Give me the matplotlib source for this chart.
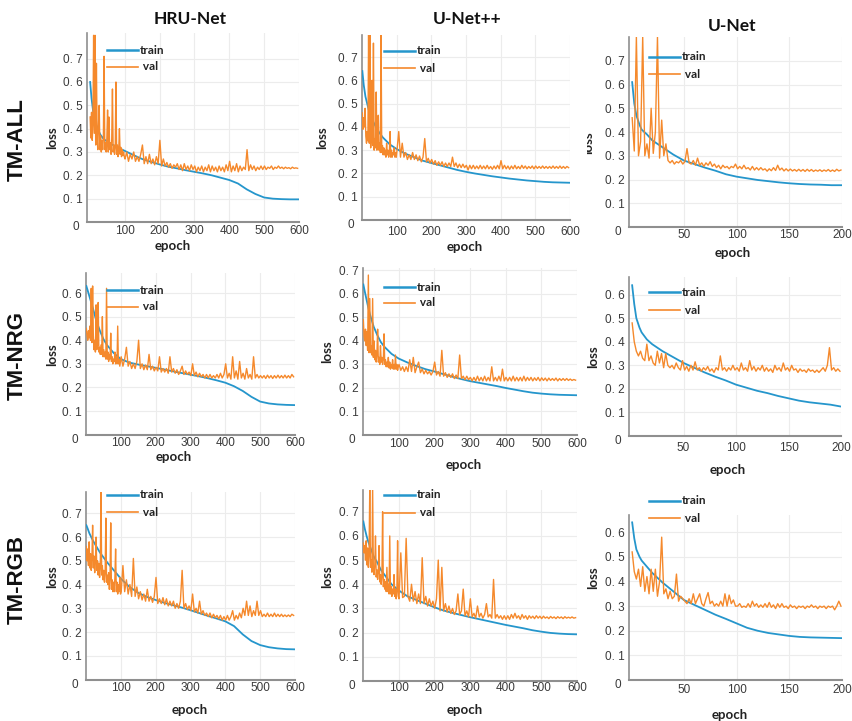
import numpy as np
import matplotlib
matplotlib.use("Agg")
import matplotlib.pyplot as plt
from matplotlib.lines import Line2D
from matplotlib.transforms import Bbox, TransformedBbox

W, H = 852, 721

MODELS = ["HRU-Net", "U-Net++", "U-Net"]
DATASETS = ["TM-ALL", "TM-NRG", "TM-RGB"]
LEGEND_LABELS = ["train", " val"]

# epochs at which the (smooth) training loss is listed
TRAIN_EPOCHS_LONG = [1, 5, 10, 15, 20, 30, 40, 50, 60, 80, 100, 125, 150, 175, 200, 225, 250,
                     275, 300, 325, 350, 375, 400, 425, 450, 475, 500, 525, 550, 575, 600]
TRAIN_EPOCHS_SHORT = [1, 3, 5, 8, 10, 15, 20, 25, 30, 40, 50, 60, 70, 80, 90, 100, 110, 120,
                      130, 140, 150, 160, 170, 180, 190, 200]
# validation loss: every 2nd epoch up to 99, then every 5th epoch (600-epoch runs);
# every 2nd epoch for the 200-epoch runs
VAL_EPOCHS_LONG = np.concatenate([np.arange(1, 100, 2), np.arange(101, 600, 5)])
VAL_EPOCHS_SHORT = np.arange(1, 200, 2)

X_TICKS_LONG = [100, 200, 300, 400, 500, 600]
X_TICKS_SHORT = [50, 100, 150, 200]
Y_TICKS_7 = [0.1, 0.2, 0.3, 0.4, 0.5, 0.6, 0.7]
Y_TICKS_6 = [0.1, 0.2, 0.3, 0.4, 0.5, 0.6]
Y_TICK_LABELS = ["0. 1", "0. 2", "0. 3", "0. 4", "0. 5", "0. 6", "0. 7"]

# ---------------- HRU-Net / TM-ALL ----------------
hru_all_train = [0.60, 0.53, 0.47, 0.43, 0.41, 0.375, 0.355, 0.345, 0.335, 0.32, 0.305, 0.287,
                 0.27, 0.258, 0.247, 0.237, 0.23, 0.222, 0.215, 0.208, 0.20, 0.19, 0.18, 0.165,
                 0.14, 0.12, 0.105, 0.10, 0.098, 0.097, 0.097]
hru_all_val = [
    0.45, 0.36, 0.47, 0.35, 0.42, 0.80, 0.38, 0.80, 0.33, 0.68,
    0.36, 0.31, 0.42, 0.50, 0.31, 0.37, 0.30, 0.35, 0.31, 0.36,
    0.71, 0.31, 0.34, 0.30, 0.36, 0.48, 0.30, 0.45, 0.31, 0.34,
    0.29, 0.36, 0.57, 0.30, 0.33, 0.29, 0.32, 0.60, 0.29, 0.33,
    0.28, 0.31, 0.40, 0.29, 0.32, 0.28, 0.31, 0.285, 0.30, 0.28,
    0.27, 0.30, 0.26, 0.29, 0.27, 0.30, 0.26, 0.28, 0.26, 0.29,
    0.33, 0.25, 0.28, 0.25, 0.29, 0.25, 0.27, 0.245, 0.28, 0.25,
    0.35, 0.24, 0.27, 0.24, 0.255, 0.235, 0.25, 0.23, 0.245, 0.235,
    0.25, 0.225, 0.245, 0.22, 0.25, 0.225, 0.24, 0.22, 0.245, 0.225,
    0.24, 0.215, 0.235, 0.22, 0.24, 0.215, 0.235, 0.22, 0.245, 0.215,
    0.24, 0.22, 0.235, 0.215, 0.24, 0.22, 0.235, 0.215, 0.245, 0.22,
    0.26, 0.215, 0.24, 0.22, 0.25, 0.215, 0.24, 0.22, 0.235, 0.225,
    0.31, 0.22, 0.245, 0.225, 0.24, 0.22, 0.235, 0.225, 0.24, 0.225,
    0.24, 0.225, 0.235, 0.23, 0.24, 0.225, 0.235, 0.23, 0.24, 0.23,
    0.235, 0.228, 0.235, 0.23, 0.233, 0.228, 0.235, 0.23, 0.232, 0.23,
]

# ---------------- U-Net++ / TM-ALL ----------------
unetpp_all_train = [0.64, 0.58, 0.53, 0.50, 0.47, 0.43, 0.40, 0.375, 0.355, 0.325, 0.305, 0.285,
                    0.27, 0.255, 0.245, 0.235, 0.225, 0.215, 0.207, 0.20, 0.194, 0.188, 0.183,
                    0.178, 0.174, 0.17, 0.167, 0.164, 0.162, 0.161, 0.16]
unetpp_all_val = [
    0.46, 0.39, 0.44, 0.40, 0.48, 0.36, 0.33, 0.38, 0.34, 0.80,
    0.33, 0.80, 0.31, 0.36, 0.60, 0.32, 0.76, 0.30, 0.35, 0.31,
    0.55, 0.30, 0.34, 0.45, 0.30, 0.33, 0.29, 0.80, 0.29, 0.32,
    0.28, 0.31, 0.28, 0.30, 0.27, 0.33, 0.28, 0.30, 0.27, 0.29,
    0.38, 0.27, 0.30, 0.27, 0.29, 0.28, 0.31, 0.27, 0.29, 0.27,
    0.30, 0.38, 0.27, 0.33, 0.27, 0.29, 0.26, 0.28, 0.26, 0.29,
    0.26, 0.28, 0.255, 0.275, 0.25, 0.27, 0.35, 0.25, 0.265, 0.245,
    0.26, 0.24, 0.255, 0.235, 0.25, 0.235, 0.25, 0.23, 0.245, 0.23,
    0.245, 0.23, 0.27, 0.23, 0.245, 0.225, 0.24, 0.225, 0.24, 0.225,
    0.235, 0.215, 0.235, 0.22, 0.235, 0.22, 0.232, 0.22, 0.235, 0.22,
    0.232, 0.22, 0.235, 0.22, 0.23, 0.218, 0.232, 0.22, 0.235, 0.22,
    0.255, 0.22, 0.235, 0.22, 0.232, 0.218, 0.232, 0.22, 0.235, 0.22,
    0.23, 0.22, 0.235, 0.222, 0.232, 0.22, 0.23, 0.222, 0.232, 0.22,
    0.232, 0.222, 0.23, 0.222, 0.232, 0.222, 0.23, 0.222, 0.23, 0.222,
    0.232, 0.222, 0.23, 0.222, 0.232, 0.222, 0.23, 0.222, 0.23, 0.225,
]

# ---------------- U-Net / TM-ALL ----------------
unet_all_train = [0.61, 0.52, 0.47, 0.43, 0.41, 0.39, 0.365, 0.35, 0.335, 0.305, 0.28, 0.265,
                  0.25, 0.237, 0.222, 0.212, 0.205, 0.198, 0.193, 0.188, 0.184, 0.181, 0.179,
                  0.178, 0.176, 0.176]
unet_all_val = [
    0.46, 0.32, 0.80, 0.30, 0.36, 0.80, 0.30, 0.35, 0.29, 0.50,
    0.31, 0.40, 0.80, 0.29, 0.45, 0.30, 0.35, 0.28, 0.27, 0.28,
    0.265, 0.275, 0.27, 0.28, 0.265, 0.275, 0.33, 0.27, 0.265, 0.28,
    0.26, 0.29, 0.26, 0.27, 0.255, 0.27, 0.26, 0.275, 0.255, 0.265,
    0.25, 0.26, 0.245, 0.26, 0.25, 0.255, 0.245, 0.255, 0.25, 0.265,
    0.245, 0.255, 0.245, 0.26, 0.245, 0.25, 0.24, 0.255, 0.24, 0.25,
    0.24, 0.25, 0.24, 0.245, 0.235, 0.245, 0.237, 0.25, 0.238, 0.26,
    0.24, 0.248, 0.236, 0.245, 0.236, 0.244, 0.236, 0.242, 0.235, 0.243,
    0.235, 0.242, 0.234, 0.243, 0.235, 0.242, 0.234, 0.24, 0.235, 0.241,
    0.234, 0.24, 0.235, 0.242, 0.234, 0.24, 0.234, 0.243, 0.236, 0.24,
]

# ---------------- HRU-Net / TM-NRG ----------------
hru_nrg_train = [0.63, 0.61, 0.585, 0.56, 0.535, 0.48, 0.44, 0.405, 0.38, 0.345, 0.32, 0.305,
                 0.297, 0.29, 0.283, 0.276, 0.268, 0.261, 0.254, 0.247, 0.239, 0.23, 0.22,
                 0.205, 0.185, 0.16, 0.14, 0.132, 0.128, 0.126, 0.125]
hru_nrg_val = [
    0.45, 0.42, 0.40, 0.44, 0.41, 0.46, 0.40, 0.62, 0.39, 0.63,
    0.42, 0.36, 0.40, 0.35, 0.55, 0.36, 0.38, 0.56, 0.35, 0.37,
    0.34, 0.38, 0.34, 0.50, 0.33, 0.36, 0.33, 0.35, 0.32, 0.62,
    0.32, 0.35, 0.31, 0.34, 0.32, 0.43, 0.31, 0.33, 0.30, 0.32,
    0.31, 0.35, 0.30, 0.33, 0.30, 0.46, 0.30, 0.32, 0.29, 0.31,
    0.33, 0.29, 0.32, 0.37, 0.29, 0.31, 0.28, 0.30, 0.28, 0.31,
    0.40, 0.28, 0.30, 0.275, 0.295, 0.275, 0.34, 0.275, 0.29, 0.27,
    0.285, 0.27, 0.33, 0.265, 0.28, 0.265, 0.28, 0.26, 0.33, 0.265,
    0.28, 0.26, 0.275, 0.255, 0.27, 0.29, 0.255, 0.27, 0.255, 0.265,
    0.25, 0.30, 0.25, 0.265, 0.245, 0.26, 0.245, 0.255, 0.24, 0.255,
    0.24, 0.255, 0.24, 0.25, 0.24, 0.255, 0.24, 0.26, 0.24, 0.255,
    0.30, 0.24, 0.26, 0.235, 0.33, 0.24, 0.27, 0.235, 0.31, 0.24,
    0.26, 0.235, 0.28, 0.24, 0.255, 0.235, 0.33, 0.24, 0.255, 0.24,
    0.25, 0.24, 0.25, 0.238, 0.252, 0.24, 0.25, 0.238, 0.25, 0.24,
    0.252, 0.24, 0.25, 0.24, 0.252, 0.24, 0.25, 0.24, 0.255, 0.245,
]

# ---------------- U-Net++ / TM-NRG ----------------
unetpp_nrg_train = [0.64, 0.61, 0.575, 0.54, 0.51, 0.46, 0.425, 0.395, 0.375, 0.345, 0.325,
                    0.308, 0.293, 0.28, 0.27, 0.259, 0.248, 0.238, 0.229, 0.222, 0.215, 0.208,
                    0.20, 0.193, 0.186, 0.18, 0.176, 0.173, 0.171, 0.17, 0.169]
unetpp_nrg_val = [
    0.49, 0.42, 0.40, 0.45, 0.38, 0.44, 0.36, 0.68, 0.35, 0.58,
    0.35, 0.38, 0.34, 0.58, 0.33, 0.40, 0.32, 0.36, 0.31, 0.34,
    0.45, 0.31, 0.33, 0.30, 0.38, 0.31, 0.33, 0.30, 0.32, 0.43,
    0.30, 0.32, 0.29, 0.31, 0.29, 0.33, 0.285, 0.31, 0.28, 0.30,
    0.285, 0.32, 0.28, 0.30, 0.28, 0.34, 0.28, 0.30, 0.275, 0.29,
    0.30, 0.275, 0.29, 0.27, 0.29, 0.27, 0.32, 0.27, 0.33, 0.265,
    0.29, 0.31, 0.265, 0.28, 0.26, 0.275, 0.26, 0.27, 0.255, 0.27,
    0.31, 0.255, 0.27, 0.25, 0.36, 0.25, 0.265, 0.245, 0.26, 0.245,
    0.26, 0.24, 0.255, 0.24, 0.34, 0.24, 0.25, 0.235, 0.25, 0.235,
    0.245, 0.23, 0.245, 0.23, 0.25, 0.23, 0.245, 0.23, 0.25, 0.23,
    0.245, 0.23, 0.29, 0.23, 0.245, 0.23, 0.25, 0.23, 0.28, 0.23,
    0.245, 0.23, 0.245, 0.23, 0.25, 0.23, 0.245, 0.23, 0.245, 0.23,
    0.25, 0.23, 0.245, 0.232, 0.245, 0.23, 0.243, 0.232, 0.245, 0.23,
    0.243, 0.232, 0.242, 0.23, 0.242, 0.232, 0.24, 0.232, 0.242, 0.23,
    0.24, 0.232, 0.24, 0.232, 0.24, 0.232, 0.238, 0.232, 0.236, 0.233,
]

# ---------------- U-Net / TM-NRG ----------------
unet_nrg_train = [0.64, 0.56, 0.50, 0.46, 0.44, 0.41, 0.39, 0.375, 0.36, 0.335, 0.31, 0.29,
                  0.27, 0.252, 0.236, 0.218, 0.205, 0.192, 0.182, 0.17, 0.16, 0.15, 0.143,
                  0.138, 0.133, 0.125]
unet_nrg_val = [
    0.48, 0.40, 0.36, 0.34, 0.36, 0.33, 0.32, 0.39, 0.32, 0.34,
    0.31, 0.30, 0.36, 0.31, 0.35, 0.29, 0.35, 0.30, 0.29, 0.30,
    0.285, 0.31, 0.29, 0.28, 0.32, 0.28, 0.295, 0.275, 0.30, 0.28,
    0.315, 0.28, 0.29, 0.275, 0.29, 0.28, 0.295, 0.275, 0.285, 0.27,
    0.29, 0.28, 0.34, 0.28, 0.29, 0.275, 0.29, 0.28, 0.30, 0.28,
    0.29, 0.275, 0.31, 0.28, 0.29, 0.275, 0.32, 0.28, 0.295, 0.275,
    0.29, 0.28, 0.30, 0.275, 0.29, 0.275, 0.285, 0.27, 0.30, 0.28,
    0.29, 0.275, 0.31, 0.28, 0.29, 0.275, 0.30, 0.28, 0.285, 0.27,
    0.285, 0.275, 0.28, 0.27, 0.285, 0.275, 0.28, 0.27, 0.28, 0.27,
    0.28, 0.29, 0.275, 0.30, 0.375, 0.28, 0.29, 0.275, 0.285, 0.275,
]

# ---------------- HRU-Net / TM-RGB ----------------
hru_rgb_train = [0.65, 0.635, 0.615, 0.60, 0.585, 0.56, 0.535, 0.515, 0.495, 0.46, 0.425, 0.39,
                 0.365, 0.348, 0.335, 0.323, 0.313, 0.303, 0.292, 0.28, 0.268, 0.257, 0.245,
                 0.225, 0.19, 0.162, 0.145, 0.136, 0.131, 0.128, 0.127]
hru_rgb_val = [
    0.56, 0.50, 0.55, 0.48, 0.58, 0.47, 0.53, 0.46, 0.51, 0.65,
    0.47, 0.52, 0.45, 0.50, 0.60, 0.46, 0.50, 0.44, 0.49, 0.43,
    0.47, 0.80, 0.44, 0.48, 0.42, 0.46, 0.41, 0.45, 0.68, 0.41,
    0.44, 0.40, 0.45, 0.38, 0.43, 0.66, 0.38, 0.42, 0.37, 0.41,
    0.37, 0.43, 0.55, 0.37, 0.41, 0.36, 0.40, 0.37, 0.43, 0.36,
    0.37, 0.48, 0.37, 0.42, 0.36, 0.40, 0.35, 0.51, 0.35, 0.39,
    0.34, 0.37, 0.335, 0.36, 0.33, 0.38, 0.33, 0.35, 0.325, 0.35,
    0.43, 0.32, 0.34, 0.32, 0.345, 0.315, 0.34, 0.31, 0.33, 0.31,
    0.33, 0.30, 0.32, 0.30, 0.33, 0.46, 0.30, 0.32, 0.295, 0.31,
    0.29, 0.36, 0.285, 0.30, 0.28, 0.33, 0.275, 0.29, 0.27, 0.28,
    0.265, 0.28, 0.26, 0.275, 0.26, 0.27, 0.255, 0.27, 0.25, 0.265,
    0.25, 0.27, 0.25, 0.265, 0.29, 0.25, 0.27, 0.255, 0.28, 0.26,
    0.30, 0.27, 0.33, 0.27, 0.31, 0.265, 0.29, 0.27, 0.33, 0.27,
    0.29, 0.265, 0.275, 0.265, 0.28, 0.265, 0.275, 0.265, 0.28, 0.265,
    0.275, 0.265, 0.275, 0.265, 0.272, 0.265, 0.272, 0.265, 0.275, 0.27,
]

# ---------------- U-Net++ / TM-RGB ----------------
unetpp_rgb_train = [0.66, 0.63, 0.60, 0.575, 0.555, 0.515, 0.49, 0.46, 0.44, 0.40, 0.375, 0.35,
                    0.335, 0.32, 0.305, 0.292, 0.282, 0.273, 0.264, 0.256, 0.248, 0.24, 0.232,
                    0.225, 0.218, 0.21, 0.204, 0.199, 0.196, 0.194, 0.193]
unetpp_rgb_val = [
    0.57, 0.53, 0.56, 0.50, 0.58, 0.48, 0.55, 0.47, 0.52, 0.80,
    0.47, 0.50, 0.45, 0.80, 0.46, 0.44, 0.48, 0.60, 0.43, 0.46,
    0.42, 0.45, 0.56, 0.41, 0.44, 0.40, 0.43, 0.70, 0.39, 0.42,
    0.38, 0.41, 0.37, 0.47, 0.37, 0.40, 0.36, 0.60, 0.36, 0.39,
    0.35, 0.38, 0.36, 0.44, 0.35, 0.38, 0.34, 0.37, 0.58, 0.35,
    0.34, 0.53, 0.345, 0.35, 0.59, 0.35, 0.33, 0.40, 0.33, 0.37,
    0.32, 0.36, 0.32, 0.51, 0.32, 0.35, 0.31, 0.34, 0.31, 0.33,
    0.30, 0.34, 0.50, 0.29, 0.47, 0.29, 0.32, 0.285, 0.31, 0.28,
    0.30, 0.275, 0.29, 0.36, 0.275, 0.29, 0.38, 0.27, 0.29, 0.265,
    0.34, 0.265, 0.28, 0.26, 0.31, 0.265, 0.28, 0.26, 0.275, 0.32,
    0.265, 0.275, 0.26, 0.42, 0.26, 0.275, 0.26, 0.27, 0.255, 0.27,
    0.255, 0.27, 0.255, 0.275, 0.26, 0.28, 0.26, 0.27, 0.255, 0.275,
    0.26, 0.27, 0.255, 0.27, 0.26, 0.268, 0.258, 0.27, 0.26, 0.268,
    0.258, 0.268, 0.26, 0.265, 0.258, 0.267, 0.26, 0.265, 0.258, 0.266,
    0.26, 0.265, 0.258, 0.266, 0.26, 0.264, 0.26, 0.265, 0.26, 0.262,
]

# ---------------- U-Net / TM-RGB ----------------
unet_rgb_train = [0.64, 0.575, 0.53, 0.50, 0.485, 0.46, 0.435, 0.415, 0.395, 0.36, 0.325,
                  0.305, 0.285, 0.265, 0.248, 0.23, 0.212, 0.20, 0.191, 0.185, 0.179, 0.175,
                  0.173, 0.172, 0.171, 0.17]
unet_rgb_val = [
    0.52, 0.44, 0.41, 0.45, 0.38, 0.46, 0.36, 0.42, 0.35, 0.45,
    0.36, 0.45, 0.34, 0.40, 0.58, 0.35, 0.37, 0.33, 0.36, 0.33,
    0.34, 0.43, 0.32, 0.34, 0.33, 0.32, 0.31, 0.33, 0.31, 0.35,
    0.31, 0.33, 0.35, 0.31, 0.30, 0.33, 0.355, 0.31, 0.32, 0.30,
    0.31, 0.30, 0.32, 0.30, 0.35, 0.30, 0.345, 0.31, 0.325, 0.30,
    0.30, 0.31, 0.295, 0.30, 0.295, 0.31, 0.295, 0.32, 0.30, 0.31,
    0.295, 0.305, 0.295, 0.31, 0.295, 0.315, 0.295, 0.305, 0.29, 0.31,
    0.295, 0.31, 0.295, 0.30, 0.29, 0.305, 0.295, 0.30, 0.29, 0.30,
    0.295, 0.30, 0.29, 0.30, 0.295, 0.305, 0.295, 0.30, 0.29, 0.30,
    0.295, 0.30, 0.29, 0.30, 0.295, 0.30, 0.285, 0.30, 0.32, 0.30,
]

SERIES = [
    [(hru_all_train, hru_all_val), (unetpp_all_train, unetpp_all_val), (unet_all_train, unet_all_val)],
    [(hru_nrg_train, hru_nrg_val), (unetpp_nrg_train, unetpp_nrg_val), (unet_nrg_train, unet_nrg_val)],
    [(hru_rgb_train, hru_rgb_val), (unetpp_rgb_train, unetpp_rgb_val), (unet_rgb_train, unet_rgb_val)],
]

# ---------------- styling ----------------
TRAIN_COLOR = "#2596cc"
VAL_COLOR = "#f5892c"
SPINE_COLOR = "#8f8f8f"
GRID_COLOR = "#ececec"
TICK_COLOR = "#3a3a3a"
LABEL_FONT = ["Lato", "DejaVu Sans"]
TICK_FONT = ["Liberation Sans Narrow", "Liberation Sans", "DejaVu Sans"]
ROW_FONT = ["Liberation Sans", "DejaVu Sans"]

# panel geometry in pixels (left, top, right, bottom), axis limits, text anchors
LAYOUT = [
    [dict(box=(87, 33, 299, 222), xlim=(-8, 600), ylim=(0, 0.81), ymax=7, xpad=2.5,
          xlab=(173, 246), ylab=(52, 138), leg=(107, 50, 67)),
     dict(box=(362, 35, 570, 220), xlim=(0, 600), ylim=(0, 0.795), ymax=7, xpad=4,
          xlab=(465, 247), ylab=(322, 138), leg=(384, 51, 68)),
     dict(box=(629, 37, 842, 227), xlim=(-2, 200), ylim=(0, 0.8), ymax=7, xpad=1.5,
          xlab=(733, 253), ylab=(588, 143), leg=(649, 57, 74))],
    [dict(box=(86, 273, 295, 434.6), xlim=(0, 600), ylim=(0, 0.685), ymax=6, xpad=1.5,
          xlab=(174, 457), ylab=(52, 355), leg=(107, 290, 307)),
     dict(box=(363, 268, 577, 435), xlim=(0, 600), ylim=(0, 0.71), ymax=7, xpad=2,
          xlab=(464, 465), ylab=(327, 352), leg=(384, 287, 303)),
     dict(box=(629, 277, 841, 436), xlim=(-2, 200), ylim=(0, 0.675), ymax=6, xpad=4,
          xlab=(728, 470), ylab=(593, 357), leg=(649, 292, 310))],
    [dict(box=(86, 492, 295, 679.5), xlim=(0, 600), ylim=(0, 0.79), ymax=7, xpad=1.5,
          xlab=(190, 710), ylab=(52, 577), leg=(107, 495, 512)),
     dict(box=(363, 490, 577, 681), xlim=(0, 600), ylim=(0, 0.79), ymax=7, xpad=0.5,
          xlab=(465, 710), ylab=(327, 577), leg=(384, 495, 513)),
     dict(box=(629, 515, 842, 680), xlim=(-2, 200), ylim=(0, 0.67), ymax=6, xpad=3,
          xlab=(730, 715), ylab=(593, 578), leg=(649, 501, 518))],
]
TITLE_POS = [(190, 19), (467, 19), (732, 26)]
ROW_POS = [(17, 140), (17, 356), (17, 580)]


def fx(px):
    return px / W


def fy(py):
    return 1 - py / H


fig = plt.figure(figsize=(W / 100, H / 100), dpi=100)
fig.patch.set_facecolor("white")

for r in range(3):
    for c in range(3):
        spec = LAYOUT[r][c]
        train, val = SERIES[r][c]
        long_run = c < 2
        train_ep = TRAIN_EPOCHS_LONG if long_run else TRAIN_EPOCHS_SHORT
        val_ep = VAL_EPOCHS_LONG if long_run else VAL_EPOCHS_SHORT

        l, t, rr, b = spec["box"]
        ax = fig.add_axes([fx(l), fy(b), (rr - l) / W, (b - t) / H])
        ax.plot(train_ep, train, color=TRAIN_COLOR, lw=1.3, zorder=3)
        ax.plot(val_ep, val, color=VAL_COLOR, lw=1.0, zorder=4)
        ax.set_xlim(*spec["xlim"])
        ax.set_ylim(*spec["ylim"])

        xt = X_TICKS_LONG if long_run else X_TICKS_SHORT
        ax.set_xticks(xt)
        ax.set_xticklabels([str(v) for v in xt], fontfamily=TICK_FONT, fontsize=8.5, color=TICK_COLOR)
        yt = Y_TICKS_7 if spec["ymax"] == 7 else Y_TICKS_6
        ax.set_yticks(yt)
        ax.set_yticklabels(Y_TICK_LABELS[:len(yt)], fontfamily=TICK_FONT, fontsize=8.5, color=TICK_COLOR)
        ax.tick_params(axis="x", length=0, pad=spec["xpad"])
        ax.tick_params(axis="y", length=0, pad=3)
        ax.annotate("0", xy=(0, 0), xycoords="axes fraction", xytext=(-8, -5),
                    textcoords="offset pixels", ha="right", va="center",
                    fontfamily=TICK_FONT, fontsize=8.5, color=TICK_COLOR)

        ax.grid(True, color=GRID_COLOR, lw=0.8)
        ax.set_axisbelow(True)
        for s in ("top", "right"):
            ax.spines[s].set_visible(False)
        ax.spines["left"].set_color(SPINE_COLOR)
        ax.spines["left"].set_linewidth(1.2)
        ax.spines["bottom"].set_color(SPINE_COLOR)
        ax.spines["bottom"].set_linewidth(1.5)

        # axis titles
        xlx, xly = spec["xlab"]
        fig.text(fx(xlx), fy(xly), "epoch", ha="center", va="center", fontsize=9.5,
                 fontweight="bold", fontfamily=LABEL_FONT, color="#222222")
        ylx, yly = spec["ylab"]
        lt = fig.text(fx(ylx), fy(yly), "loss", ha="center", va="center", rotation=90,
                      fontsize=9.5, fontweight="bold", fontfamily=LABEL_FONT, color="#222222")
        if r == 0 and c == 2:
            clip = TransformedBbox(Bbox([[fx(587), 0], [fx(600), 1]]), fig.transFigure)
            lt.set_clip_box(clip)
            lt.set_clip_on(True)

        # legend
        lx, ty, vy = spec["leg"]
        for yy, col, lw, lab in ((ty, TRAIN_COLOR, 1.8, LEGEND_LABELS[0]),
                                 (vy, VAL_COLOR, 1.2, LEGEND_LABELS[1])):
            fig.add_artist(Line2D([fx(lx), fx(lx + 31)], [fy(yy), fy(yy)],
                                  transform=fig.transFigure, color=col, lw=lw))
            fig.text(fx(lx + 33), fy(yy), lab, ha="left", va="center", fontsize=8.5,
                     fontweight="bold", fontfamily=LABEL_FONT, color="#222222")

for name, (px, py) in zip(MODELS, TITLE_POS):
    fig.text(fx(px), fy(py), name, ha="center", va="center", fontsize=12.5,
             fontweight="bold", fontfamily=LABEL_FONT, color="#111111")

for name, (px, py) in zip(DATASETS, ROW_POS):
    fig.text(fx(px), fy(py), name, ha="center", va="center", rotation=90, fontsize=16,
             fontweight="bold", fontfamily=ROW_FONT, color="#111111")

fig.savefig("out.png", dpi=100, facecolor="white")
